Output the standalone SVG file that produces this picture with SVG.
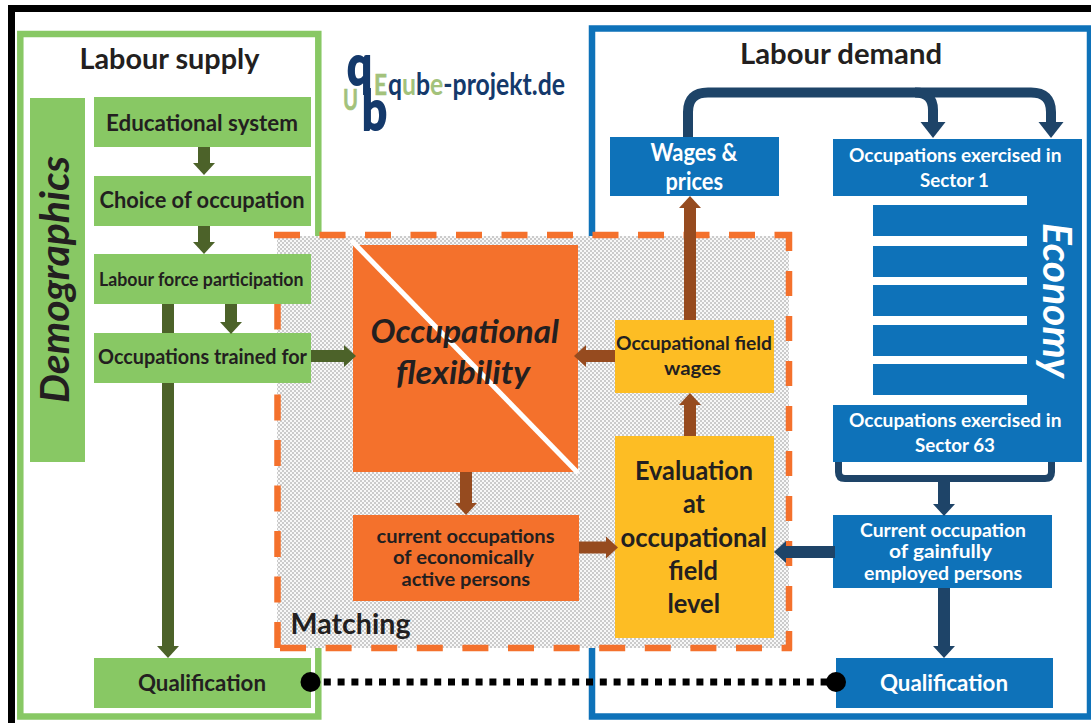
<svg xmlns="http://www.w3.org/2000/svg" width="1091" height="723" viewBox="0 0 1091 723">
<style>
text{font-family:"Lato","Liberation Sans",sans-serif;font-weight:700;fill:#231f20}
.g{fill:#88c864}
.b{fill:#0e72b9}
.o{fill:#f4712c}
.y{fill:#fdbd24}
.dash{fill:none;stroke:#f4712c;stroke-width:6.5;stroke-dasharray:26 19.5}
.cg{fill:none;stroke:#4c6229;stroke-width:12}
.cb{fill:none;stroke:#964b1f;stroke-width:12}
.cn{fill:none;stroke:#1e4468;stroke-width:12}
.cn2{fill:none;stroke:#1e4468;stroke-width:10}
.cn3{fill:none;stroke:#1e4468;stroke-width:7}
</style>
<defs>
<pattern id="stip" width="4" height="4" patternUnits="userSpaceOnUse"><rect width="4" height="4" fill="#f8f8f8"/><rect width="2" height="2" fill="#cbcbcb"/><rect x="2" y="2" width="2" height="2" fill="#cbcbcb"/></pattern>
<marker id="ag" markerUnits="userSpaceOnUse" markerWidth="12" markerHeight="24" refX="0" refY="12" orient="auto"><path d="M0,1L12,12L0,23Z" fill="#4c6229"/></marker>
<marker id="ab" markerUnits="userSpaceOnUse" markerWidth="12" markerHeight="24" refX="0" refY="12" orient="auto"><path d="M0,1L12,12L0,23Z" fill="#964b1f"/></marker>
<marker id="an" markerUnits="userSpaceOnUse" markerWidth="12" markerHeight="24" refX="0" refY="12" orient="auto"><path d="M0,1L12,12L0,23Z" fill="#1e4468"/></marker>
<marker id="an2" markerUnits="userSpaceOnUse" markerWidth="16" markerHeight="26" refX="0" refY="13" orient="auto"><path d="M0,0.5L16,13L0,25.5Z" fill="#1e4468"/></marker>
</defs>
<rect width="1091" height="723" fill="#fff"/>
<path id="frame" d="M8,723V5H1091V12H15V723Z" fill="#000"/>
<g id="labour-supply"><rect x="20.3" y="34" width="298" height="682.5" fill="#fff" stroke="#88c864" stroke-width="6.5"/>
<text x="79.5" y="69" font-size="28" textLength="180" lengthAdjust="spacingAndGlyphs">Labour supply</text></g>
<g id="labour-demand"><rect x="592" y="28.5" width="498" height="688" fill="#fff" stroke="#0e72b9" stroke-width="6.5"/>
<text x="740" y="64" font-size="28" textLength="202" lengthAdjust="spacingAndGlyphs">Labour demand</text></g>
<g id="logo">
<text x="347" y="85" font-size="55" textLength="25" lengthAdjust="spacingAndGlyphs" style="fill:#14396b;stroke:#14396b;stroke-width:2">q</text>
<text x="362" y="130" font-size="55" textLength="25" lengthAdjust="spacingAndGlyphs" style="fill:#14396b;stroke:#14396b;stroke-width:2">b</text>
<text x="374" y="95" font-size="29" textLength="13" lengthAdjust="spacingAndGlyphs" style="fill:#a3c27b;stroke:#a3c27b;stroke-width:.6">E</text>
<text x="343" y="110" font-size="29" textLength="15" lengthAdjust="spacingAndGlyphs" style="fill:#a3c27b;stroke:#a3c27b;stroke-width:.6">U</text>
<text x="388" y="95" font-size="31" textLength="177" lengthAdjust="spacingAndGlyphs" style="fill:#14396b">q<tspan style="fill:#a3c27b">u</tspan>b<tspan style="fill:#a3c27b">e</tspan>-projekt.de</text>
</g>
<g id="matching">
<rect x="277" y="236" width="512" height="412" fill="url(#stip)"/>
<path class="dash" d="M274,235H792"/>
<path class="dash" d="M280,648H792" style="stroke-dasharray:26 19.6"/>
<path class="dash" d="M277.5,258V650"/>
<path class="dash" d="M789,650V232" style="stroke-dashoffset:6;stroke-dasharray:25 20"/>
<text x="290.5" y="634" font-size="28" textLength="120" lengthAdjust="spacingAndGlyphs">Matching</text>
</g>
<g id="demographics"><rect class="g" x="30" y="98" width="55" height="364"/>
<text transform="translate(69,403) rotate(-90)" font-size="40" textLength="247" lengthAdjust="spacingAndGlyphs" style="font-style:italic">Demographics</text></g>
<g id="educational-system"><rect class="g" x="94" y="97" width="217" height="50"/><text x="106" y="131" font-size="23" textLength="192" lengthAdjust="spacingAndGlyphs">Educational system</text></g>
<g id="choice-of-occupation"><rect class="g" x="94" y="176" width="217" height="50"/><text x="99.5" y="208" font-size="23" textLength="205" lengthAdjust="spacingAndGlyphs">Choice of occupation</text></g>
<g id="labour-force"><rect class="g" x="94" y="254" width="217" height="50"/><text x="99" y="286" font-size="18.5" textLength="204.5" lengthAdjust="spacingAndGlyphs">Labour force participation</text></g>
<g id="occupations-trained"><rect class="g" x="94" y="333" width="217" height="50"/><text x="98" y="364" font-size="20" textLength="209" lengthAdjust="spacingAndGlyphs">Occupations trained for</text></g>
<g id="qualification-supply"><rect class="g" x="94" y="658" width="217" height="50"/><text x="138" y="691" font-size="23" textLength="128" lengthAdjust="spacingAndGlyphs">Qualification</text></g>
<g id="occupational-flexibility"><rect class="o" x="353" y="245" width="225" height="227"/>
<path d="M351,240L578,473" stroke="#fff" stroke-width="5" fill="none"/>
<text x="370.5" y="343" font-size="32" textLength="188.5" lengthAdjust="spacingAndGlyphs" style="font-style:italic">Occupational</text>
<text x="396" y="384" font-size="32" textLength="134" lengthAdjust="spacingAndGlyphs" style="font-style:italic">flexibility</text></g>
<g id="current-occupations"><rect class="o" x="353" y="515" width="226" height="86"/>
<text x="376.5" y="543" font-size="19.5" textLength="178" lengthAdjust="spacingAndGlyphs">current occupations</text>
<text x="393" y="564" font-size="19.5" textLength="141" lengthAdjust="spacingAndGlyphs">of economically</text>
<text x="401.5" y="586" font-size="19.5" textLength="128.5" lengthAdjust="spacingAndGlyphs">active persons</text></g>
<g id="evaluation"><rect class="y" x="615" y="436" width="159" height="202"/>
<text x="635" y="480" font-size="26" textLength="118" lengthAdjust="spacingAndGlyphs">Evaluation</text>
<text x="683" y="513" font-size="26" textLength="22" lengthAdjust="spacingAndGlyphs">at</text>
<text x="620.5" y="547" font-size="26" textLength="146.5" lengthAdjust="spacingAndGlyphs">occupational</text>
<text x="668.5" y="580" font-size="26" textLength="49.5" lengthAdjust="spacingAndGlyphs">field</text>
<text x="667.5" y="613" font-size="26" textLength="52.5" lengthAdjust="spacingAndGlyphs">level</text></g>
<g id="occupational-field-wages"><rect class="y" x="615" y="320" width="159" height="73"/>
<text x="616" y="350" font-size="19" textLength="156" lengthAdjust="spacingAndGlyphs">Occupational field</text>
<text x="664" y="375" font-size="19" textLength="57" lengthAdjust="spacingAndGlyphs">wages</text></g>
<g id="wages-prices"><rect class="b" x="610" y="137" width="169" height="59"/>
<text x="650.5" y="161" font-size="24" textLength="87" lengthAdjust="spacingAndGlyphs" style="fill:#fff">Wages &amp;</text>
<text x="665.5" y="190" font-size="24" textLength="57.5" lengthAdjust="spacingAndGlyphs" style="fill:#fff">prices</text></g>
<g id="economy">
<rect class="b" x="833" y="139" width="249" height="57"/>
<rect class="b" x="1027" y="196" width="55" height="209"/>
<rect class="b" x="873" y="205" width="154" height="31"/>
<rect class="b" x="873" y="246" width="154" height="31"/>
<rect class="b" x="873" y="285" width="154" height="31"/>
<rect class="b" x="873" y="325" width="154" height="31"/>
<rect class="b" x="873" y="364" width="154" height="31"/>
<rect class="b" x="833" y="405" width="249" height="57"/>
<text x="849" y="162" font-size="19.5" textLength="212.5" lengthAdjust="spacingAndGlyphs" style="fill:#fff">Occupations exercised in</text>
<text x="920" y="187" font-size="19.5" textLength="69" lengthAdjust="spacingAndGlyphs" style="fill:#fff">Sector 1</text>
<text transform="translate(1043,223) rotate(90)" font-size="41" textLength="155" lengthAdjust="spacingAndGlyphs" style="fill:#fff;font-style:italic">Economy</text>
<text x="849" y="427" font-size="19.5" textLength="212.5" lengthAdjust="spacingAndGlyphs" style="fill:#fff">Occupations exercised in</text>
<text x="915" y="452" font-size="19.5" textLength="80" lengthAdjust="spacingAndGlyphs" style="fill:#fff">Sector 63</text>
</g>
<g id="current-occupation"><rect class="b" x="833" y="515" width="219" height="73"/>
<text x="860" y="537" font-size="19.5" textLength="166" lengthAdjust="spacingAndGlyphs" style="fill:#fff">Current occupation</text>
<text x="889" y="558" font-size="19.5" textLength="103" lengthAdjust="spacingAndGlyphs" style="fill:#fff">of gainfully</text>
<text x="864" y="580" font-size="19.5" textLength="158" lengthAdjust="spacingAndGlyphs" style="fill:#fff">employed persons</text></g>
<g id="qualification-demand"><rect class="b" x="836" y="658" width="217" height="50"/>
<text x="880" y="691" font-size="23" textLength="128" lengthAdjust="spacingAndGlyphs" style="fill:#fff">Qualification</text></g>
<g id="connectors">
<path class="cg" d="M204,147V163" marker-end="url(#ag)"/>
<path class="cg" d="M204,226V242" marker-end="url(#ag)"/>
<path class="cg" d="M231,304V322" marker-end="url(#ag)"/>
<path class="cg" d="M168,304V333M168,383V646" marker-end="url(#ag)"/>
<path class="cg" d="M311,356H344" marker-end="url(#ag)"/>
<path class="cb" d="M466,472V503" marker-end="url(#ab)"/>
<path class="cb" d="M579,547.5H606" marker-end="url(#ab)"/>
<path class="cb" d="M690,436V405" marker-end="url(#ab)"/>
<path class="cb" d="M690,320V208" marker-end="url(#ab)"/>
<path class="cb" d="M615,356H586" marker-end="url(#ab)"/>
<path class="cn" d="M835,552H786" marker-end="url(#an)"/>
<path class="cn" d="M944,478V504" marker-end="url(#an)"/>
<path class="cn" d="M944,588V646" marker-end="url(#an)"/>
<path class="cn3" d="M838.5,462V472Q838.5,478.5 845,478.5H1045Q1051.5,478.5 1051.5,472V462"/>
<path class="cn2" d="M688,137V112Q688,92.5 708,92.5H1031Q1051,92.5 1051,112V122" marker-end="url(#an2)"/>
<path class="cn2" d="M915,92.5Q933,92.5 933,110V122" marker-end="url(#an2)"/>
<path d="M310,682H836" fill="none" stroke="#000" stroke-width="7" stroke-dasharray="7 6.8"/>
<circle cx="310.5" cy="682" r="10" fill="#000"/>
<circle cx="836" cy="682" r="10" fill="#000"/>
</g>
</svg>
